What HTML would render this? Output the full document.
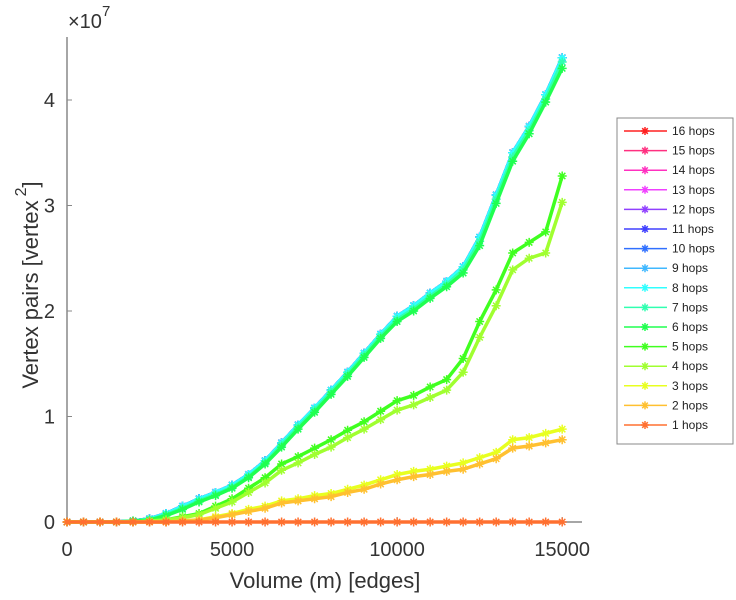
<!DOCTYPE html>
<html><head><meta charset="utf-8">
<style>
html,body{margin:0;padding:0;background:#fff;}
svg{display:block;font-family:"Liberation Sans",sans-serif;}
</style></head>
<body>
<svg id="chart" width="736" height="600" viewBox="0 0 736 600" xmlns="http://www.w3.org/2000/svg">
<g id="axes"></g>
<g id="plot"></g>
<g id="legend"></g>
<text x="68" y="28" font-size="20" fill="#333">×10<tspan dy="-12" font-size="15">7</tspan></text>
<text x="325" y="588" font-size="22" fill="#333" text-anchor="middle">Volume (m) [edges]</text>
<text transform="translate(38,285) rotate(-90)" font-size="22" fill="#333" text-anchor="middle">Vertex pairs [vertex<tspan dy="-12" dx="4" font-size="16">2</tspan><tspan dy="12">]</tspan></text>
</svg>
<script>
const xVals=[0,500,1000,1500,2000,2500,3000,3500,4000,4500,5000,5500,6000,6500,7000,7500,8000,8500,9000,9500,10000,10500,11000,11500,12000,12500,13000,13500,14000,14500,15000];
const topHops=[0,0,0,0,0.01,0.03,0.08,0.15,0.22,0.28,0.35,0.45,0.58,0.75,0.92,1.08,1.25,1.42,1.6,1.78,1.95,2.05,2.17,2.28,2.42,2.7,3.1,3.5,3.75,4.05,4.4];
const hops7=[0,0,0,0,0.01,0.02,0.07,0.13,0.2,0.26,0.33,0.43,0.56,0.73,0.9,1.06,1.23,1.4,1.58,1.76,1.92,2.02,2.14,2.25,2.39,2.66,3.06,3.46,3.71,4.01,4.36];
const hops6=[0,0,0,0,0.01,0.02,0.06,0.12,0.19,0.25,0.32,0.42,0.55,0.71,0.88,1.04,1.21,1.38,1.56,1.74,1.9,2.0,2.12,2.23,2.36,2.62,3.02,3.42,3.68,3.98,4.3];
const hops5=[0,0,0,0,0,0.01,0.02,0.05,0.08,0.15,0.22,0.32,0.42,0.55,0.62,0.7,0.78,0.87,0.95,1.05,1.15,1.2,1.28,1.35,1.55,1.9,2.2,2.55,2.65,2.75,3.28];
const hops4=[0,0,0,0,0,0.01,0.02,0.04,0.07,0.13,0.19,0.28,0.37,0.49,0.56,0.64,0.71,0.8,0.88,0.97,1.06,1.11,1.18,1.25,1.42,1.75,2.05,2.39,2.5,2.55,3.03];
const hops3=[0,0,0,0,0,0,0,0.01,0.02,0.05,0.08,0.12,0.15,0.2,0.22,0.25,0.27,0.31,0.35,0.4,0.45,0.48,0.5,0.53,0.56,0.61,0.66,0.78,0.8,0.84,0.88];
const hops2=[0,0,0,0,0,0,0,0.01,0.02,0.04,0.07,0.1,0.13,0.18,0.2,0.22,0.24,0.28,0.31,0.36,0.4,0.43,0.45,0.48,0.5,0.55,0.6,0.7,0.72,0.75,0.78];
const hops1=[0,0,0,0,0,0,0,0,0,0,0,0,0,0,0,0,0,0,0,0,0,0,0,0,0,0,0,0,0,0,0];
const seriesNames=["1 hops","2 hops","3 hops","4 hops","5 hops","6 hops","7 hops","8 hops","9 hops","10 hops","11 hops","12 hops","13 hops","14 hops","15 hops","16 hops"];
const seriesData=[hops1,hops2,hops3,hops4,hops5,hops6,hops7,topHops,topHops,topHops,topHops,topHops,topHops,topHops,topHops,topHops];
const seriesColors=["#ff7030","#ffc030","#e8ff20","#a0ff30","#40ff20","#20ff50","#30ffb0","#30ffff","#40b8ff","#3070ff","#4040ff","#9040ff","#f040ff","#ff30c0","#ff3080","#ff2020"];
const xTicks=[0,5000,10000,15000];
const xTickLabels=["0","5000","10000","15000"];
const yTicks=[0,1,2,3,4];
const yTickLabels=["0","1","2","3","4"];

const NS="http://www.w3.org/2000/svg";
const x0=67,x1=582,xMax=15600,yBase=522,yTop=37,yMax=(522-37)/105.5;
function sx(v){return x0+(v/xMax)*(x1-x0);}
function sy(v){return yBase-(v/yMax)*(yBase-yTop);}
function mk(tag,attrs,parent){const e=document.createElementNS(NS,tag);for(const k in attrs)e.setAttribute(k,attrs[k]);parent.appendChild(e);return e;}
const axes=document.getElementById('axes'),plot=document.getElementById('plot'),legend=document.getElementById('legend');
let a=mk('line',{x1:x0,y1:yTop,x2:x0,y2:yBase,stroke:'#888','stroke-width':1.5},axes);

a=mk('line',{x1:x0,y1:yBase,x2:x1,y2:yBase,stroke:'#888','stroke-width':1.5},axes);

xTicks.forEach((t,i)=>{const X=sx(t);
 mk('line',{x1:X,y1:yBase,x2:X,y2:yBase-5,stroke:'#888'},axes);
 const tx=mk('text',{x:X,y:yBase+34,'font-size':20,fill:'#333','text-anchor':'middle'},axes);tx.textContent=xTickLabels[i];
 
 });
yTicks.forEach((t,i)=>{const Y=sy(t);
 mk('line',{x1:x0,y1:Y,x2:x0+5,y2:Y,stroke:'#888'},axes);
 const tx=mk('text',{x:x0-12,y:Y+7,'font-size':20,fill:'#333','text-anchor':'end'},axes);tx.textContent=yTickLabels[i];
 
 });
function star(g,X,Y,c,r){
 mk('path',{d:`M${X-r},${Y}H${X+r}M${X},${Y-r}V${Y+r}M${X-r*0.7},${Y-r*0.7}L${X+r*0.7},${Y+r*0.7}M${X-r*0.7},${Y+r*0.7}L${X+r*0.7},${Y-r*0.7}`,stroke:c,'stroke-width':1.5,fill:'none'},g);}
for(let si=15;si>=0;si--){const d=seriesData[si];const g=mk('g',{},plot);
 
 
 const pts=d.map((v,i)=>sx(xVals[i])+','+sy(v)).join(' ');
 mk('polyline',{points:pts,fill:'none',stroke:seriesColors[si],'stroke-width':3.5,'stroke-linejoin':'round'},g);
 d.forEach((v,i)=>star(g,sx(xVals[i]),sy(v),seriesColors[si],4.5));}
mk('rect',{x:617,y:118,width:116,height:326,fill:'#fff',stroke:'#888','stroke-width':1},legend);
for(let k=0;k<16;k++){const si=15-k;const Y=131+k*19.6;
 const g=mk('g',{},legend);
 
 
 mk('line',{x1:624,y1:Y,x2:667,y2:Y,stroke:seriesColors[si],'stroke-width':1.5},g);
 star(g,645,Y,seriesColors[si],4);
 const t=mk('text',{x:672,y:Y+4,'font-size':12,fill:'#222'},g);t.textContent=seriesNames[si];}
</script>
</body></html>
